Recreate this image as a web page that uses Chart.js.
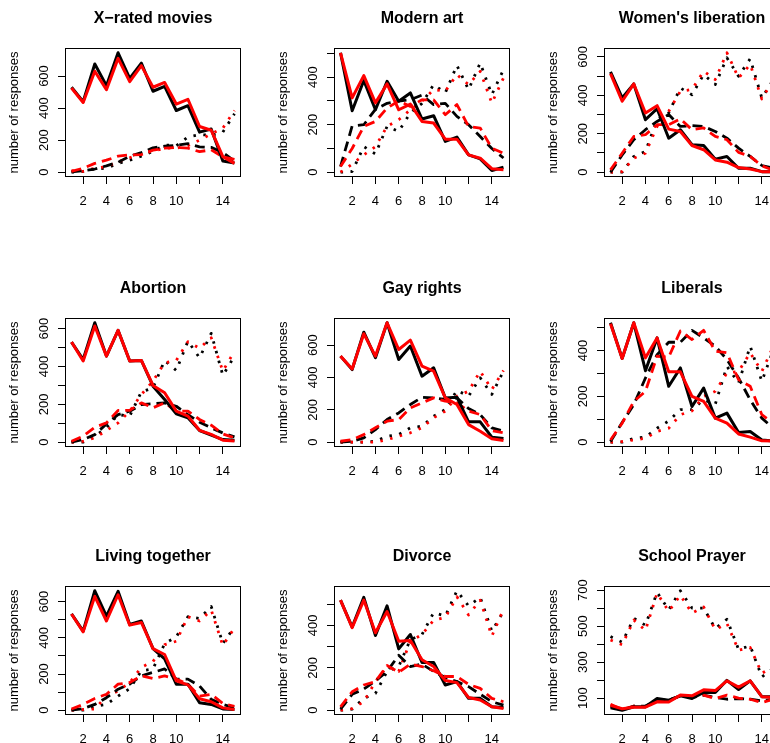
<!DOCTYPE html>
<html>
<head>
<meta charset="utf-8">
<script src="https://cdn.jsdelivr.net/npm/chart.js@4/dist/chart.umd.min.js"></script>
<style>
  html, body { margin: 0; padding: 0; background: #fff; overflow: hidden; }
  #grid { position: relative; width: 810px; height: 810px; }
  #grid canvas { position: absolute; }
</style>
</head>
<body>
<div id="grid"></div>
<script>
// panel titles and x positions
const titles = ['X\u2212rated movies', 'Modern art', "Women's liberation",
  'Abortion', 'Gay rights', 'Liberals',
  'Living together', 'Divorce', 'School Prayer'];
const xValues = [1, 2, 3, 4, 5, 6, 7, 8, 9, 10, 11, 12, 13, 14, 15];
const xTicks = [2, 4, 6, 8, 10, 12, 14];
const xTickLabels = ['2', '4', '6', '8', '10', '', '14'];

// y ticks per panel (R drops labels that would overlap)
const yTicks = [
  [0, 200, 400, 600],
  [0, 100, 200, 300, 400, 500],
  [0, 100, 200, 300, 400, 500, 600],
  [0, 100, 200, 300, 400, 500, 600],
  [0, 200, 400, 600],
  [0, 100, 200, 300, 400, 500],
  [0, 100, 200, 300, 400, 500, 600],
  [0, 100, 200, 300, 400, 500],
  [100, 200, 300, 400, 500, 600, 700]
];
const yTickLabels = [
  ['0', '200', '400', '600'],
  ['0', '', '200', '', '400', ''],
  ['0', '', '200', '', '400', '', '600'],
  ['0', '', '200', '', '400', '', '600'],
  ['0', '200', '400', '600'],
  ['0', '', '200', '', '400', ''],
  ['0', '', '200', '', '400', '', '600'],
  ['0', '', '200', '', '400', ''],
  ['100', '', '300', '', '500', '', '700']
];

// one row per panel, 15 values each
const blackSolid = [
  [530, 440, 675, 540, 745, 585, 680, 505, 535, 385, 415, 250, 270, 70, 58],
  [503, 259, 386, 263, 383, 299, 334, 224, 238, 130, 148, 73, 56, 7, 21],
  [522, 386, 459, 273, 330, 177, 221, 143, 139, 68, 82, 21, 21, 3, 3],
  [529, 437, 631, 455, 591, 429, 432, 296, 226, 150, 129, 62, 37, 14, 11],
  [532, 449, 680, 522, 738, 511, 594, 408, 460, 274, 278, 126, 126, 31, 23],
  [521, 365, 521, 312, 455, 244, 324, 156, 236, 105, 127, 42, 47, 10, 5],
  [532, 437, 660, 520, 657, 474, 493, 340, 284, 144, 144, 41, 32, 7, 4],
  [519, 392, 532, 352, 492, 289, 357, 225, 225, 119, 135, 56, 56, 16, 13],
  [46, 33, 52, 52, 98, 89, 113, 98, 132, 132, 199, 148, 196, 108, 108]
];
const redSolid = [
  [525, 435, 630, 515, 710, 565, 665, 530, 560, 425, 455, 285, 262, 97, 55],
  [503, 313, 407, 292, 372, 263, 287, 214, 207, 139, 139, 73, 59, 15, 10],
  [513, 369, 459, 308, 346, 224, 212, 139, 117, 64, 52, 24, 17, 3, 2],
  [529, 429, 614, 455, 591, 429, 432, 300, 261, 164, 138, 63, 41, 11, 7],
  [532, 453, 670, 532, 738, 573, 631, 470, 439, 274, 233, 109, 68, 21, 10],
  [517, 365, 521, 368, 455, 307, 307, 200, 178, 105, 83, 36, 22, 6, 5],
  [532, 433, 629, 493, 638, 470, 485, 340, 308, 162, 140, 63, 47, 13, 4],
  [519, 389, 519, 365, 465, 325, 329, 238, 206, 140, 130, 60, 48, 16, 8],
  [60, 41, 50, 50, 79, 79, 117, 113, 146, 142, 196, 161, 196, 108, 104]
];
const blackDashed = [
  [3, 10, 20, 40, 62, 100, 122, 152, 162, 168, 178, 158, 155, 122, 70],
  [24, 195, 200, 265, 290, 300, 305, 325, 285, 290, 235, 200, 150, 100, 60],
  [0, 90, 169, 221, 264, 300, 238, 242, 238, 212, 177, 125, 82, 35, 21],
  [0, 14, 40, 97, 146, 164, 199, 203, 208, 190, 146, 106, 76, 49, 28],
  [0, 6, 27, 78, 140, 181, 233, 278, 274, 264, 274, 208, 171, 89, 68],
  [3, 86, 164, 280, 382, 436, 436, 488, 455, 419, 361, 280, 185, 105, 60],
  [0, 9, 32, 69, 116, 144, 190, 209, 228, 172, 172, 134, 60, 32, 13],
  [5, 75, 100, 138, 183, 259, 206, 217, 183, 154, 135, 111, 75, 40, 24],
  [56, 33, 56, 56, 90, 89, 113, 104, 117, 104, 94, 98, 94, 85, 94]
];
const redDashed = [
  [5, 25, 55, 75, 100, 108, 110, 138, 150, 155, 150, 128, 140, 95, 80],
  [24, 100, 193, 214, 270, 300, 277, 305, 305, 242, 285, 193, 186, 101, 80],
  [12, 99, 186, 195, 247, 247, 277, 221, 230, 186, 169, 103, 82, 33, 10],
  [5, 32, 79, 102, 168, 168, 208, 182, 208, 164, 164, 120, 90, 44, 23],
  [6, 16, 47, 89, 130, 140, 212, 243, 274, 254, 243, 192, 171, 72, 58],
  [10, 83, 178, 222, 375, 371, 485, 448, 488, 397, 390, 273, 244, 120, 83],
  [7, 32, 65, 88, 144, 153, 190, 175, 190, 172, 144, 78, 88, 37, 22],
  [16, 87, 119, 135, 211, 179, 217, 206, 186, 159, 159, 122, 103, 56, 40],
  [66, 37, 56, 52, 85, 85, 113, 110, 117, 98, 117, 100, 94, 75, 94]
];
const blackDotted = [
  [0, 5, 20, 25, 55, 75, 100, 130, 170, 165, 220, 235, 230, 250, 365],
  [0, 3, 108, 77, 193, 172, 250, 290, 369, 334, 450, 348, 460, 327, 432],
  [0, 0, 82, 108, 273, 308, 438, 403, 508, 456, 595, 499, 590, 386, 482],
  [0, 0, 32, 76, 146, 138, 266, 287, 432, 379, 534, 446, 575, 353, 455],
  [0, 0, 0, 6, 37, 47, 89, 99, 161, 202, 320, 285, 398, 295, 439],
  [0, 0, 17, 22, 61, 93, 142, 142, 185, 166, 331, 258, 419, 266, 404],
  [0, 0, 22, 32, 78, 119, 218, 228, 368, 405, 517, 507, 573, 368, 461],
  [0, 5, 56, 79, 183, 206, 333, 357, 460, 444, 563, 492, 532, 373, 465],
  [442, 410, 543, 505, 687, 591, 696, 600, 600, 486, 538, 371, 390, 218, 265]
];
const redDotted = [
  [10, 5, 25, 35, 65, 90, 120, 130, 150, 150, 165, 200, 240, 275, 385],
  [0, 34, 73, 108, 193, 221, 263, 299, 348, 341, 411, 369, 425, 291, 397],
  [0, 3, 73, 99, 238, 317, 421, 430, 525, 482, 621, 490, 560, 381, 482],
  [0, 5, 23, 62, 102, 164, 252, 323, 420, 432, 531, 496, 552, 376, 481],
  [0, 0, 0, 0, 16, 37, 58, 89, 151, 192, 285, 315, 439, 326, 443],
  [0, 3, 10, 17, 47, 61, 120, 137, 200, 222, 302, 309, 390, 309, 419],
  [0, 4, 7, 78, 106, 153, 237, 269, 362, 381, 517, 493, 554, 358, 455],
  [0, 8, 40, 135, 206, 183, 325, 357, 424, 437, 535, 449, 519, 349, 476],
  [423, 396, 534, 476, 683, 582, 671, 572, 606, 480, 515, 366, 381, 238, 276]
];

const FONT = "'Liberation Sans', Arial, Helvetica, sans-serif";
const colLeft = [0, 269, 539];
const rowTop = [0, 270, 538];

// R style axis range: data range padded 4% each side
function rRange(rows) {
  const all = [].concat(...rows);
  const lo = Math.min(...all), hi = Math.max(...all);
  const pad = (hi - lo) * 0.04;
  return [lo - pad, hi + pad];
}

function series(vals, color, dash, width) {
  return {
    data: xValues.map((x, i) => ({ x: x, y: vals[i] })),
    borderColor: color,
    borderWidth: width,
    borderDash: dash,
    borderCapStyle: 'butt',
    borderJoinStyle: 'round',
    pointRadius: 0,
    tension: 0,
    fill: false
  };
}

// box around the plot and rotated y labels like base R
const rBox = {
  id: 'rbox',
  afterDraw(chart, args, opts) {
    const a = chart.chartArea, ctx = chart.ctx;
    ctx.save();
    ctx.strokeStyle = '#000';
    ctx.lineWidth = 1;
    ctx.strokeRect(Math.round(a.left) + 0.5, Math.round(a.top) + 0.5,
      Math.round(a.right - a.left) - 1, Math.round(a.bottom - a.top) - 1);
    const ys = chart.scales.y;
    ctx.fillStyle = '#000';
    ctx.font = '13px ' + FONT;
    ctx.textAlign = 'center';
    ctx.textBaseline = 'middle';
    opts.ticks.forEach((v, i) => {
      if (!opts.labels[i]) return;
      ctx.save();
      ctx.translate(44, ys.getPixelForValue(v));
      ctx.rotate(-Math.PI / 2);
      ctx.fillText(opts.labels[i], 0, 0);
      ctx.restore();
    });
    ctx.restore();
  }
};

const grid = document.getElementById('grid');

titles.forEach((title, p) => {
  const canvas = document.createElement('canvas');
  canvas.width = 270;
  canvas.height = 270;
  canvas.style.left = colLeft[p % 3] + 'px';
  canvas.style.top = rowTop[Math.floor(p / 3)] + 'px';
  grid.appendChild(canvas);

  const yr = rRange([blackSolid[p], redSolid[p], blackDashed[p], redDashed[p], blackDotted[p], redDotted[p]]);

  new Chart(canvas, {
    type: 'line',
    data: {
      datasets: [
        series(redSolid[p], '#ff0000', [], 3),
        series(blackSolid[p], '#000000', [], 3),
        series(redDashed[p], '#ff0000', [10, 6], 2.8),
        series(blackDashed[p], '#000000', [10, 6], 2.8),
        series(redDotted[p], '#ff0000', [2.5, 7.5], 2.8),
        series(blackDotted[p], '#000000', [2.5, 7.5], 2.8)
      ]
    },
    options: {
      responsive: false,
      animation: false,
      devicePixelRatio: 1,
      events: [],
      layout: { padding: { left: 0, right: 29, top: 0, bottom: 0 } },
      plugins: {
        legend: { display: false },
        tooltip: { enabled: false },
        title: {
          display: true,
          text: title,
          fullSize: false,
          color: '#000',
          font: { family: FONT, size: 16, weight: 'bold' },
          padding: { top: 9, bottom: 19.8 }
        },
        rbox: { ticks: yTicks[p], labels: yTickLabels[p] }
      },
      scales: {
        x: {
          type: 'linear',
          min: 0.44,
          max: 15.56,
          afterBuildTicks: s => { s.ticks = xTicks.map(v => ({ value: v })); },
          afterFit: s => { s.height = 93; },
          ticks: {
            autoSkip: false, maxRotation: 0, minRotation: 0, padding: 10,
            color: '#000', font: { family: FONT, size: 13 },
            callback: (v, i) => xTickLabels[i]
          },
          grid: { drawOnChartArea: false, drawTicks: true, tickLength: 7, color: '#000', lineWidth: 1 },
          border: { display: false }
        },
        y: {
          type: 'linear',
          min: yr[0],
          max: yr[1],
          afterBuildTicks: s => { s.ticks = yTicks[p].map(v => ({ value: v })); },
          afterFit: s => { s.width = 65; },
          ticks: { display: false },
          grid: { drawOnChartArea: false, drawTicks: true, tickLength: 7, color: '#000', lineWidth: 1 },
          border: { display: false },
          title: {
            display: true,
            text: 'number of responses',
            color: '#000',
            font: { family: FONT, size: 13 },
            padding: { top: 7, bottom: 0 }
          }
        }
      }
    },
    plugins: [rBox]
  });
});
</script>
</body>
</html>
